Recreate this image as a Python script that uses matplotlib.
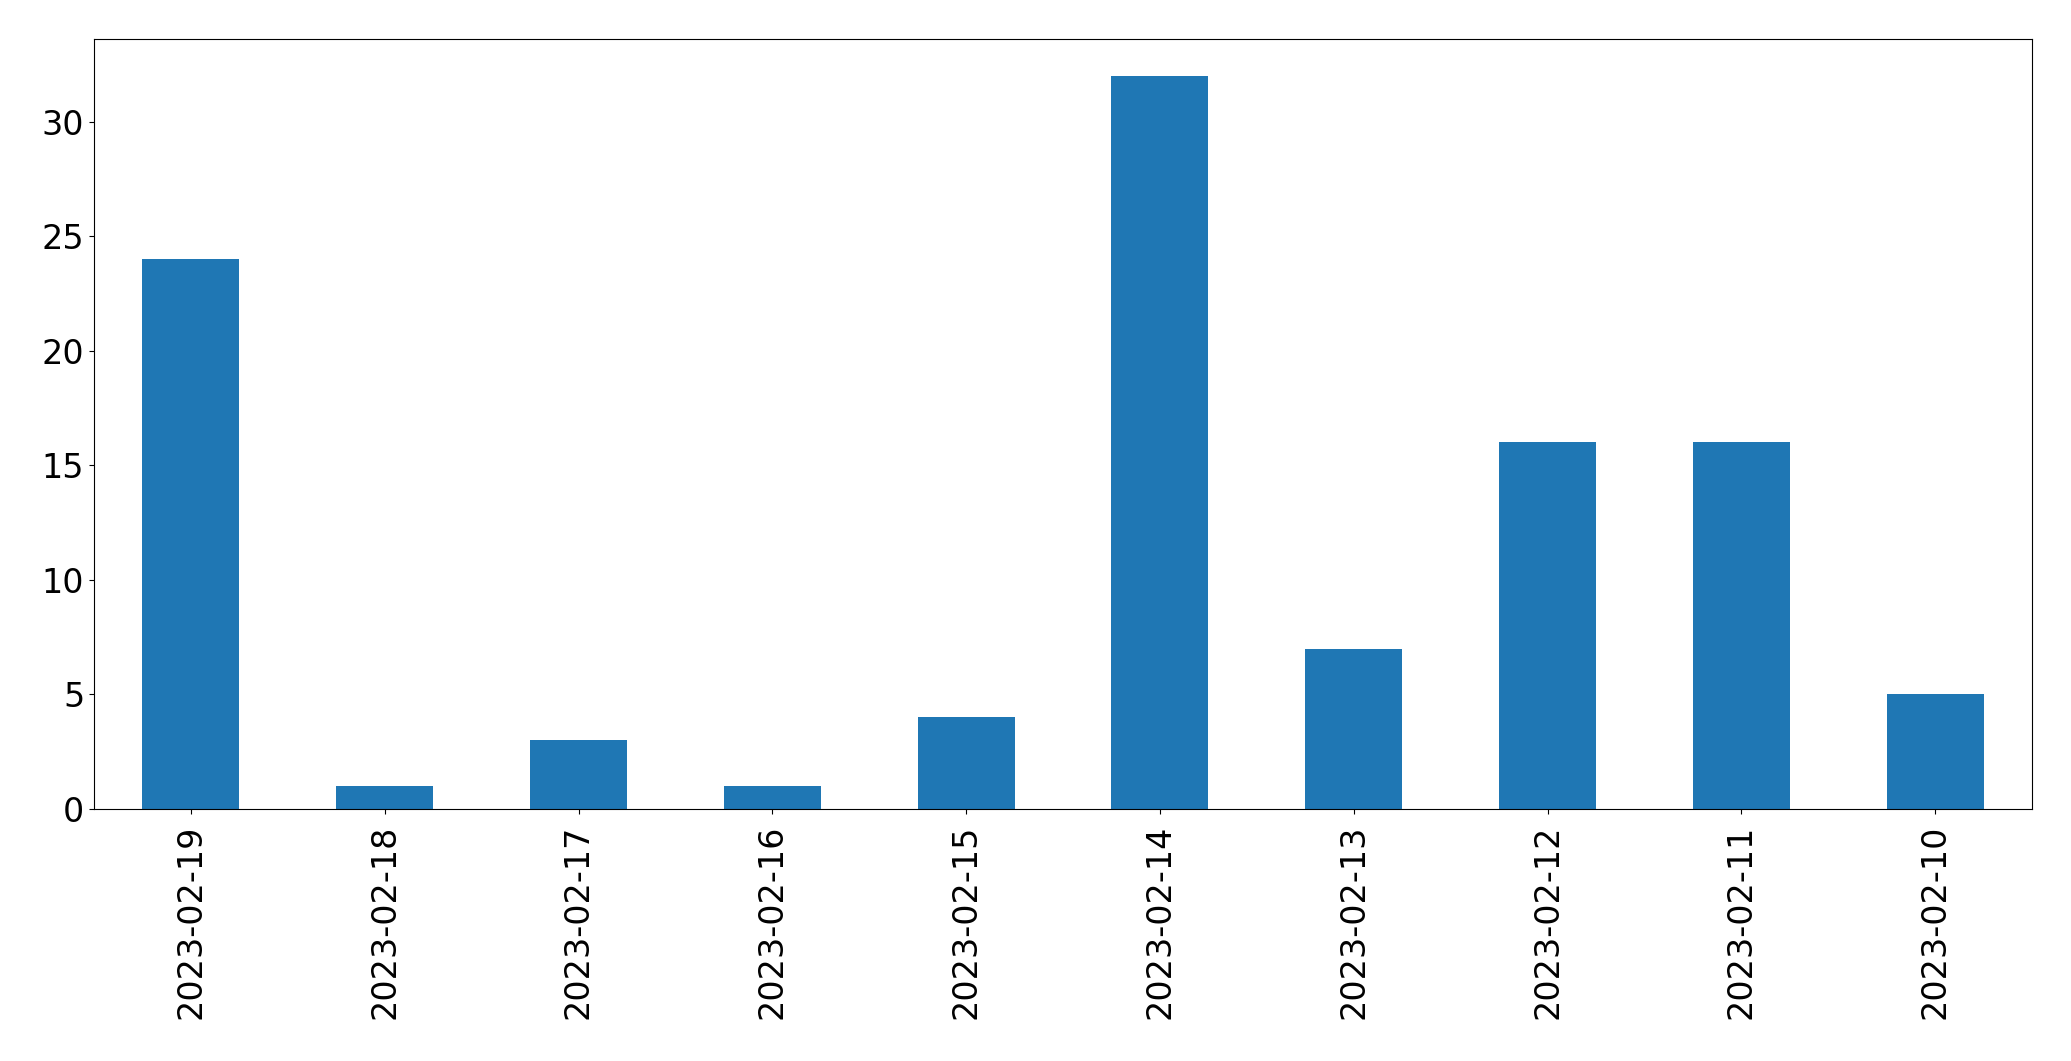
import pandas as pd
import matplotlib
matplotlib.use("Agg")
import matplotlib.pyplot as plt

# daily counts, newest first
dates = ['2023-02-19', '2023-02-18', '2023-02-17', '2023-02-16', '2023-02-15',
         '2023-02-14', '2023-02-13', '2023-02-12', '2023-02-11', '2023-02-10']
counts = [24, 1, 3, 1, 4, 32, 7, 16, 16, 5]

s = pd.Series(counts, index=dates)

fig = plt.figure(figsize=(20.71, 10.61), dpi=100)
ax = fig.add_axes([94 / 2071, 1 - 809 / 1061, (2032 - 94) / 2071, (809 - 39) / 1061])
s.plot(kind='bar', ax=ax, fontsize=24)
ax.tick_params(axis='x', pad=8)

plt.savefig('out.png', dpi=100)
